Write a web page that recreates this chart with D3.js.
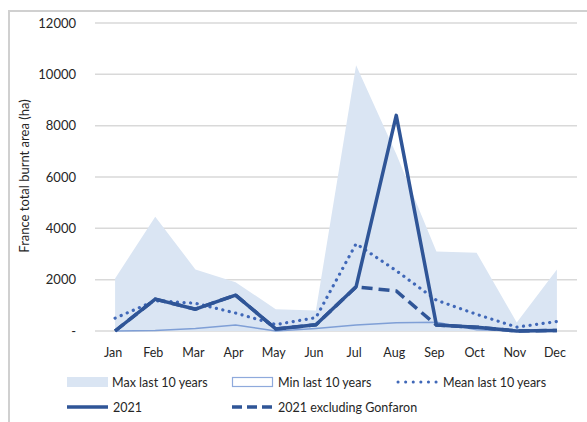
<!DOCTYPE html>
<html><head><meta charset="utf-8">
<script src="https://cdn.jsdelivr.net/npm/d3@7"></script>
<style>body{margin:0;background:#fff}svg{display:block}text{font-family:Lato,"Open Sans",sans-serif;fill:#262626}</style>
</head><body><svg id="c" width="587" height="422"></svg>
<script>
const months = ["Jan","Feb","Mar","Apr","May","Jun","Jul","Aug","Sep","Oct","Nov","Dec"];
const maxLast10 = [2050,4450,2400,1900,850,800,10350,6900,3100,3050,330,2400];
const minLast10 = [0,20,100,230,0,100,230,320,340,50,0,0];
const meanLast10 = [500,1180,1080,700,250,520,3400,2350,1200,650,150,370];
const y2021 = [0,1240,850,1400,80,240,1720,8400,230,150,0,20];
const y2021exGonfaron = [0,1240,850,1400,80,240,1720,1560,230,150,0,20];
const yTicks = [0,2000,4000,6000,8000,10000,12000];
const legendLabels = ["Max last 10 years","Min last 10 years","Mean last 10 years","2021","2021 excluding Gonfaron"];

const svg = d3.select("#c");
svg.append("rect").attr("x",9).attr("y",11).attr("width",590).attr("height",420)
  .attr("fill","none").attr("stroke","#d0d0d0").attr("stroke-width",2);

const x = d3.scaleBand().domain(months).range([95,577]);
const y = d3.scaleLinear().domain([0,12000]).range([331,23]);
const cx = m => x(m)+x.bandwidth()/2;

svg.append("g").selectAll("line").data(yTicks).join("line")
  .attr("x1",95).attr("x2",577).attr("y1",d=>y(d)).attr("y2",d=>y(d))
  .attr("stroke","#d9d9d9").attr("stroke-width",1.5);

svg.append("g").selectAll("text").data(yTicks).join("text")
  .attr("x",76).attr("y",d=>y(d)+4.5).attr("text-anchor","end").attr("font-size",13)
  .text(d=>d===0?"-":d3.format("d")(d));

svg.append("g").selectAll("text").data(months).join("text")
  .attr("x",d=>cx(d)-2).attr("y",357).attr("text-anchor","middle").attr("font-size",12.5)
  .text(d=>d);

svg.append("text").attr("transform","translate(29,176) rotate(-90)")
  .attr("text-anchor","middle").attr("font-size",13).text("France total burnt area (ha)");

const area = d3.area().x((d,i)=>cx(months[i])).y0(y(0)).y1(d=>y(d));
svg.append("path").datum(maxLast10).attr("d",area).attr("fill","#dae5f3");

const line = d3.line().x((d,i)=>cx(months[i])).y(d=>y(d));
svg.append("path").datum(minLast10).attr("d",line).attr("fill","none")
  .attr("stroke","#7f9fd6").attr("stroke-width",1.5);
svg.append("path").datum(meanLast10).attr("d",line).attr("fill","none")
  .attr("stroke","#4068b8").attr("stroke-width",3.2).attr("stroke-dasharray","0.1,6.5").attr("stroke-linecap","round");
svg.append("path").datum(y2021exGonfaron).attr("d",line).attr("fill","none")
  .attr("stroke","#2f5597").attr("stroke-width",3.5).attr("stroke-dasharray","11,6");
svg.append("path").datum(y2021).attr("d",line).attr("fill","none")
  .attr("stroke","#2f5597").attr("stroke-width",3.5).attr("stroke-linejoin","round");

const lg = svg.append("g").attr("font-size",12.5);
const r1 = 382, r2 = 407;
lg.append("rect").attr("x",67).attr("y",r1-5).attr("width",41).attr("height",10).attr("fill","#dae5f3");
lg.append("text").attr("x",112).attr("y",r1+4.5).text(legendLabels[0]);
lg.append("rect").attr("x",232.5).attr("y",r1-4.5).attr("width",40).attr("height",9).attr("fill","#fff").attr("stroke","#8faadc").attr("stroke-width",1.2);
lg.append("text").attr("x",278).attr("y",r1+4.5).text(legendLabels[1]);
lg.append("line").attr("x1",398).attr("x2",438).attr("y1",r1).attr("y2",r1)
  .attr("stroke","#4068b8").attr("stroke-width",3).attr("stroke-dasharray","0.1,7.5").attr("stroke-linecap","round");
lg.append("text").attr("x",443).attr("y",r1+4.5).text(legendLabels[2]);
lg.append("line").attr("x1",67).attr("x2",108).attr("y1",r2).attr("y2",r2)
  .attr("stroke","#2f5597").attr("stroke-width",3.5);
lg.append("text").attr("x",113).attr("y",r2+4.5).text(legendLabels[3]);
lg.append("line").attr("x1",232).attr("x2",272).attr("y1",r2).attr("y2",r2)
  .attr("stroke","#2f5597").attr("stroke-width",3.5).attr("stroke-dasharray","10,5");
lg.append("text").attr("x",278).attr("y",r2+4.5).text(legendLabels[4]);
</script></body></html>
